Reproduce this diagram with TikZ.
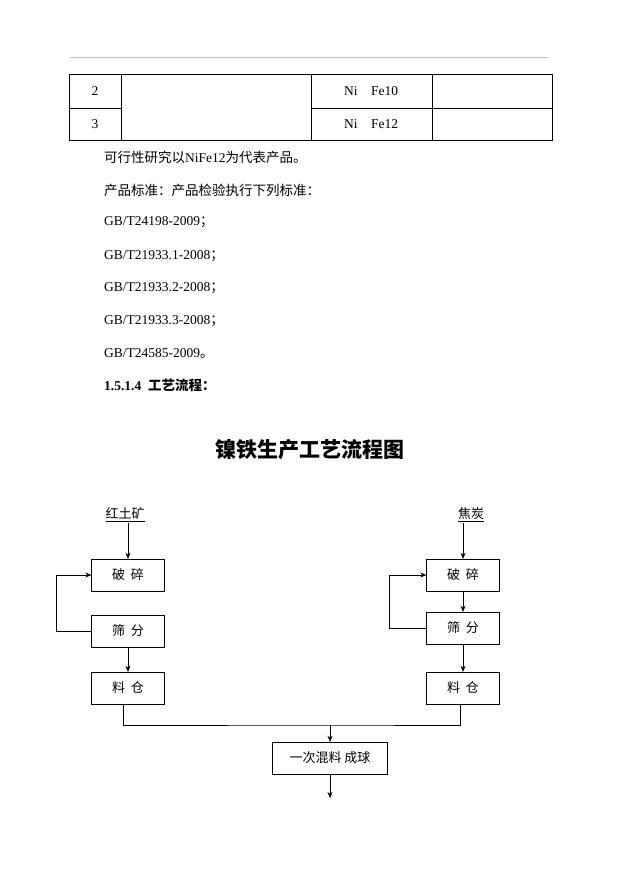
\documentclass[tikz,border=0pt]{standalone}
\usepackage{fontspec}
\setmainfont{Liberation Serif}
\newfontfamily\cjk{Noto Sans CJK SC}
\usetikzlibrary{positioning,arrows.meta}
\begin{document}
\begin{tikzpicture}[x=1pt,y=-1pt,every path/.style={thin},
    box/.style={draw,minimum width=73pt,minimum height=32pt,inner sep=0pt,font=\cjk\fontsize{13}{13}\selectfont},
    txt/.style={anchor=west,inner sep=0pt,font=\fontsize{13.5}{13.5}\selectfont},
    arr/.style={-{Stealth[length=6pt,width=5pt]}}]
          \useasboundingbox (0,0) rectangle (621,877);
          \draw[gray!50] (70,57) -- (548,57);
          % table
          \draw (69,74) rectangle (552,140);
          \draw (69,108) -- (121,108);
          \draw (311,108) -- (552,108);
          \foreach \x in {121,311,432} \draw (\x,74) -- (\x,140);
          \node[font=\fontsize{13.5}{13.5}\selectfont] (n2) at (95,91) {2};
          \node[font=\fontsize{13.5}{13.5}\selectfont] (n3) at (95,124) {3};
          \node[font=\fontsize{13.5}{13.5}\selectfont] (f10) at (371,91) {Ni\quad Fe10};
          \node[font=\fontsize{13.5}{13.5}\selectfont] (f12) at (371,124) {Ni\quad Fe12};
          % text lines
          \node[txt] (t1) at (104,157) {{\cjk 可行性研究以}NiFe12{\cjk 为代表产品。}};
          \node[txt] (t2) at (104,190) {\cjk 产品标准：产品检验执行下列标准：};
          \node[txt] (t3) at (104,222) {GB/T24198-2009{\cjk ；}};
          \node[txt] (t4) at (104,256) {GB/T21933.1-2008{\cjk ；}};
          \node[txt] (t5) at (104,288) {GB/T21933.2-2008{\cjk ；}};
          \node[txt] (t6) at (104,321) {GB/T21933.3-2008{\cjk ；}};
          \node[txt] (t7) at (104,353) {GB/T24585-2009{\cjk 。}};
          \node[txt] (t8) at (104,385) {\bfseries 1.5.1.4\ \ {\cjk 工艺流程：}};
          \node[font=\cjk\bfseries\fontsize{21}{21}\selectfont] (title) at (310,450) {镍铁生产工艺流程图};
          % flow chart
          \node[font=\cjk\fontsize{13}{13}\selectfont,inner sep=1pt] (ore) at (125,515) {\underline{红土矿}};
          \node[font=\cjk\fontsize{13}{13}\selectfont,inner sep=1pt] (coke) at (471,515) {\underline{焦炭}};
          \node[box] (crushL) at (128,575) {破\ \ 碎};
          \node[box] (sieveL) at (128,631) {筛\ \ 分};
          \node[box] (binL) at (128,688) {料\ \ 仓};
          \node[box] (crushR) at (463,575) {破\ \ 碎};
          \node[box] (sieveR) at (463,628) {筛\ \ 分};
          \node[box] (binR) at (463,688) {料\ \ 仓};
          \node[box,minimum width=115pt] (ball) at (330,758) {一次混料\ 成球};
          \coordinate (out) at (330,798);
          \coordinate (mid) at (330,725);
          \coordinate (binLout) at (123,704);
          \coordinate (binRout) at (460,704);

          \draw[arr] (ore.south -| crushL) -- (crushL);
          \draw[arr] (coke.south -| crushR) -- (crushR);
          \draw[arr] (sieveL) -- (binL);
          \draw[arr] (crushR) -- (sieveR);
          \draw[arr] (sieveR) -- (binR);
          \draw[arr] (sieveL.west) -- ++(-35,0) |- (crushL.west);
          \draw[arr] (sieveR.west) -- ++(-37,0) |- (crushR.west);
          \draw (binLout) |- (mid) -| (binRout);
          \draw[arr] (mid) -- (ball);
          \draw[arr] (ball) -- (out);
        \end{tikzpicture}
\end{document}
